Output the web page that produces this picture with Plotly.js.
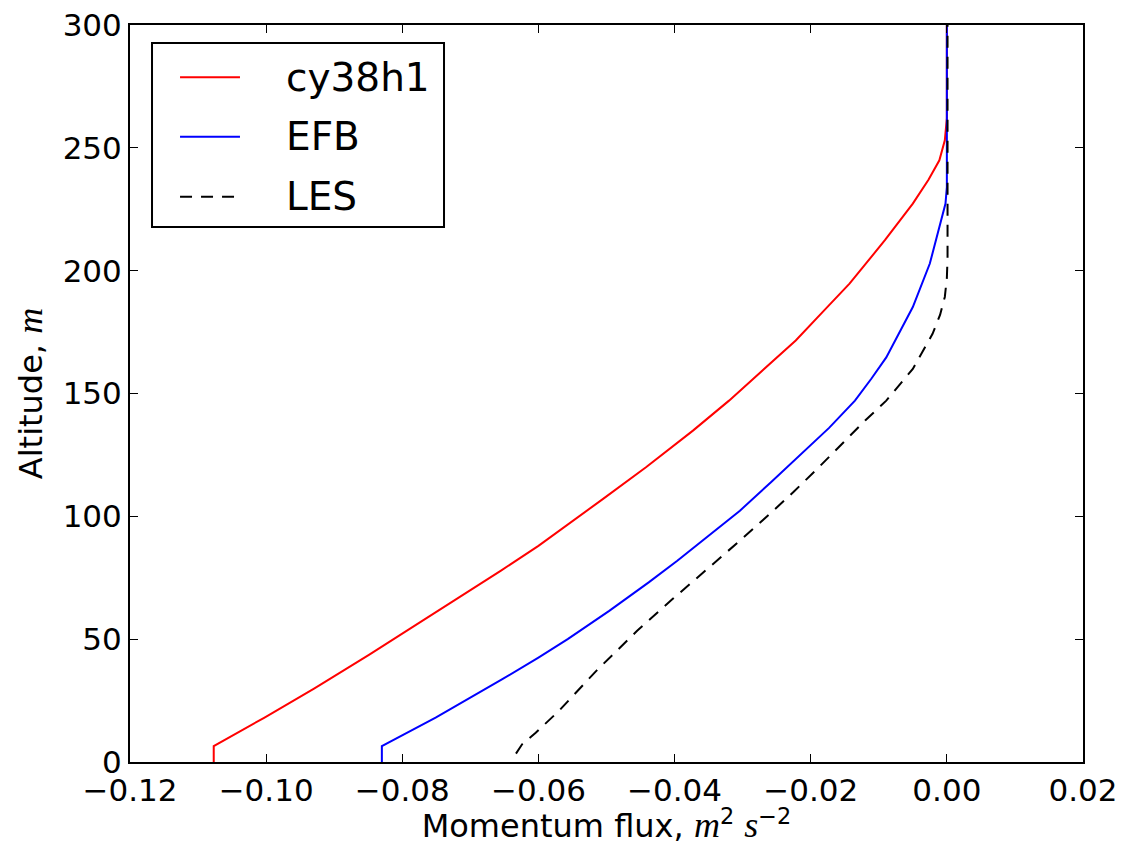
<!DOCTYPE html>
<html>
<head>
<meta charset="utf-8">
<script src="https://cdn.plot.ly/plotly-3.0.1.min.js"></script>
<style>
html,body{margin:0;padding:0;background:#fff;}
#chart{width:1129px;height:845px;}
</style>
</head>
<body>
<div id="chart"></div>
<script>
// cy38h1 (red)
const altCy38h1 = [0, 6.5, 18, 30, 43.6, 60.9, 77.9, 88.0, 97.5, 107.1, 120.0, 134.9, 147.1, 160, 171.6, 183, 194.7, 212.4, 227.3, 237, 244.9, 253.1, 262, 300];
const fluxCy38h1 = [-0.1077, -0.1077, -0.1003, -0.0929, -0.0849, -0.0751, -0.0655, -0.0600, -0.0552, -0.0505, -0.0442, -0.0373, -0.0320, -0.0268, -0.0222, -0.0183, -0.0143, -0.0091, -0.0050, -0.0027, -0.0011, -0.0003, 0.0, 0.0];

// EFB (blue)
const altEFB = [0, 6.5, 18.1, 33.7, 42.5, 50.0, 61.5, 73.1, 81.9, 91.7, 102.3, 114, 125, 136, 147.1, 156, 164.7, 175, 185.2, 202.9, 212.4, 220, 227.3, 234, 300];
const fluxEFB = [-0.0830, -0.0830, -0.0751, -0.0653, -0.0600, -0.0557, -0.0496, -0.0438, -0.0396, -0.0351, -0.0304, -0.0258, -0.0216, -0.0173, -0.0135, -0.0111, -0.0089, -0.0070, -0.0050, -0.0025, -0.0016, -0.0008, -0.0002, 0.0, 0.0];

// LES (black dashed)
const altLES = [3.4, 7.2, 11.9, 20.8, 37.1, 53.4, 66.3, 79.2, 90.1, 100, 110, 120, 130, 139, 147.1, 160, 174.3, 182, 189.3, 197, 205, 300];
const fluxLES = [-0.0633, -0.0624, -0.0604, -0.0570, -0.0515, -0.0455, -0.0403, -0.0349, -0.0304, -0.0264, -0.0225, -0.0188, -0.0153, -0.0120, -0.0089, -0.0050, -0.0021, -0.0010, -0.0003, 0.0000, 0.0001, 0.0001];

const seriesNames = ["cy38h1", "EFB", "LES"];
const xTicks = [-0.12, -0.10, -0.08, -0.06, -0.04, -0.02, 0.00, 0.02];
const yTicks = [0, 50, 100, 150, 200, 250, 300];

const FONT = "DejaVu Sans, sans-serif";
const lineStyles = [
  {color: "#ff0000", width: 2},
  {color: "#0000ff", width: 2},
  {color: "#000000", width: 2, dash: "12px,9px"}
];

const traces = [
  {x: fluxCy38h1, y: altCy38h1, name: seriesNames[0], mode: "lines", line: lineStyles[0]},
  {x: fluxEFB, y: altEFB, name: seriesNames[1], mode: "lines", line: lineStyles[1]},
  {x: fluxLES, y: altLES, name: seriesNames[2], mode: "lines", line: lineStyles[2]}
];

// legend box (matplotlib-style), in paper coordinates
const legBox = {x0: 0.0231, x1: 0.3295, y0: 0.7259, y1: 0.9756};
const legRowsY = [0.9290, 0.8483, 0.7670];
const legLineX = [0.0525, 0.1154];
const legTextX = 0.1616;

const shapes = [{
  type: "rect", xref: "paper", yref: "paper",
  x0: legBox.x0, x1: legBox.x1, y0: legBox.y0, y1: legBox.y1,
  line: {color: "#000", width: 2}, fillcolor: "#fff", layer: "above"
}];
const annotations = [];
seriesNames.forEach((nm, i) => {
  shapes.push({
    type: "line", xref: "paper", yref: "paper",
    x0: legLineX[0], x1: legLineX[1], y0: legRowsY[i], y1: legRowsY[i],
    line: Object.assign({}, lineStyles[i]), layer: "above"
  });
  annotations.push({
    xref: "paper", yref: "paper", x: legTextX, y: legRowsY[i],
    xanchor: "left", yanchor: "middle", showarrow: false,
    text: nm, font: {family: FONT, size: 39, color: "#000"}
  });
});

const axisCommon = {
  showgrid: false,
  zeroline: false,
  showline: true,
  linecolor: "#000",
  linewidth: 2,
  mirror: "ticks",
  ticks: "inside",
  ticklen: 8,
  tickwidth: 1,
  tickcolor: "#000",
  tickfont: {family: FONT, size: 31, color: "#000"}
};

const serif = 'font-family:Liberation Serif;font-style:italic;font-size:36px';

const layout = {
  width: 1129,
  height: 845,
  paper_bgcolor: "#fff",
  plot_bgcolor: "#fff",
  margin: {l: 130, r: 46, t: 25, b: 83},
  showlegend: false,
  shapes: shapes,
  annotations: annotations,
  xaxis: Object.assign({}, axisCommon, {
    range: [-0.12, 0.02],
    tickvals: xTicks,
    tickformat: ".2f",
    title: {
      text: 'Momentum flux, <span style="' + serif + '">m</span><sup>2</sup> <span style="' + serif + '">s</span><sup>\u22122</sup>',
      font: {family: FONT, size: 32, color: "#000"},
      standoff: 2
    }
  }),
  yaxis: Object.assign({}, axisCommon, {
    range: [0, 300],
    tickvals: yTicks,
    title: {
      text: 'Altitude, <span style="' + serif + '">m</span>',
      font: {family: FONT, size: 32, color: "#000"},
      standoff: 10
    }
  })
};

Plotly.newPlot("chart", traces, layout, {displayModeBar: false, staticPlot: true});
</script>
</body>
</html>
